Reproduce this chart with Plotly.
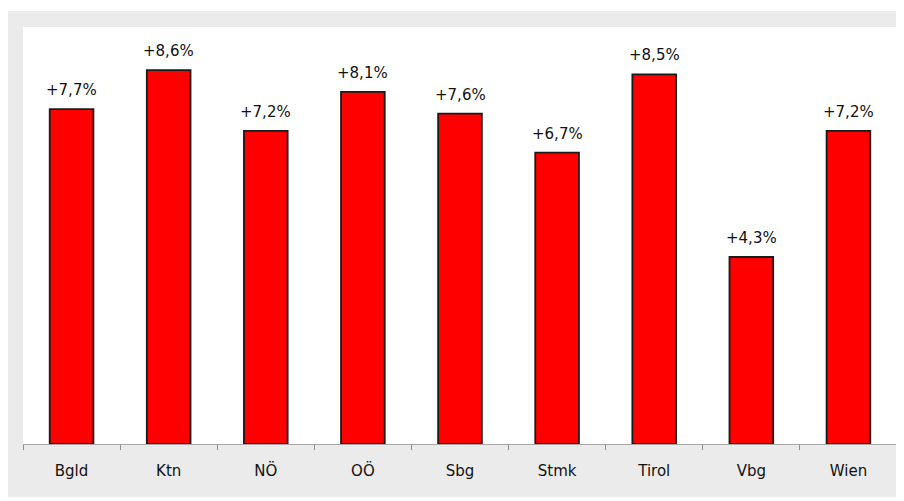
import plotly.graph_objects as go

categories = ["Bgld", "Ktn", "NÖ", "OÖ", "Sbg", "Stmk", "Tirol", "Vbg", "Wien"]
values = [7.7, 8.6, 7.2, 8.1, 7.6, 6.7, 8.5, 4.3, 7.2]
labels = ["+" + f"{v:.1f}".replace(".", ",") + "%" for v in values]

# page has an 8px body margin; figure placed at (8, 8)
W, H = 896, 489
ml, mr, mt, mb = 15, 7, 19, 53
pw, ph = W - ml - mr, H - mt - mb

def px_y(y):
    return (H - mb - y) / ph

fig = go.Figure()
fig.add_trace(go.Bar(
    x=categories, y=values,
    marker=dict(color="#ff0000", line=dict(color="#1a1a1a", width=1.8)),
    width=0.45,
    hoverinfo="skip",
))

for c, v, t in zip(categories, values, labels):
    fig.add_annotation(x=c, y=v, text=t, showarrow=False, yanchor="bottom",
                       yshift=8, font=dict(family="DejaVu Sans", size=15, color="#111111"))

# white strip at top of figure (outer white border is thicker on top)
fig.add_shape(type="rect", xref="paper", yref="paper",
              x0=-0.1, x1=1.1, y0=px_y(3), y1=px_y(-1),
              fillcolor="#ffffff", line=dict(width=0), layer="below")
fig.add_shape(type="rect", xref="paper", yref="paper",
              x0=0, x1=1, y0=0, y1=1,
              fillcolor="#ffffff", line=dict(width=0), layer="below")

fig.update_layout(
    width=W, height=H,
    margin=dict(l=ml, r=mr, t=mt, b=mb, pad=0),
    paper_bgcolor="#ebebeb", plot_bgcolor="rgba(0,0,0,0)",
    showlegend=False,
    font=dict(family="DejaVu Sans", size=15, color="#111111"),
)
fig.update_xaxes(
    showline=True, linecolor="#a6a6a6", linewidth=1,
    ticks="outside", tickson="boundaries", ticklen=5, tickcolor="#8c8c8c",
    showgrid=False, fixedrange=True,
    tickfont=dict(family="DejaVu Sans", size=15, color="#111111"),
    ticklabelstandoff=13,
)
fig.update_yaxes(range=[0, 9.59], visible=False, showgrid=False, zeroline=False, fixedrange=True)

fig.write_html("out.html", config={"displayModeBar": False})
